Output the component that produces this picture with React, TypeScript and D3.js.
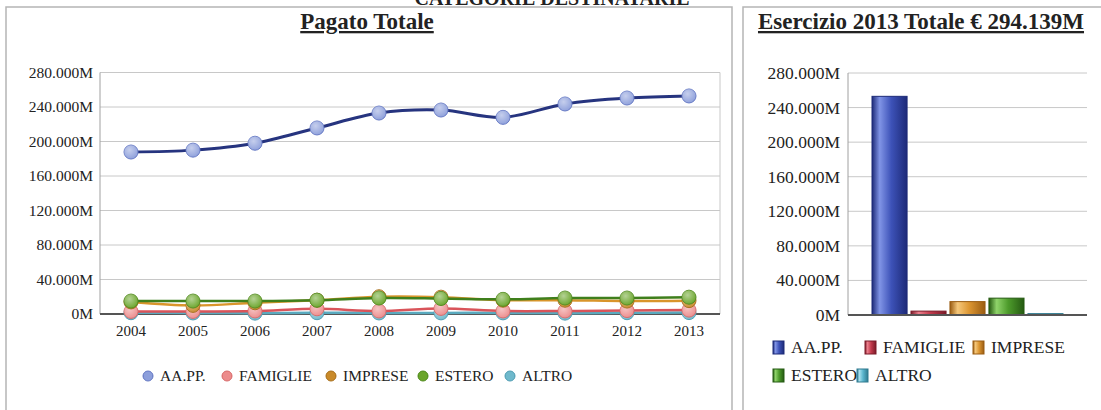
import React from "react";
import * as d3 from "d3";

const years = ["2004", "2005", "2006", "2007", "2008", "2009", "2010", "2011", "2012", "2013"];
const seriesNames = ["AA.PP.", "FAMIGLIE", "IMPRESE", "ESTERO", "ALTRO"];
const aapp = [187.8, 190, 198, 215.7, 233, 236.5, 228, 243.5, 250.4, 252.8];
const famiglie = [3, 3, 3.5, 6, 3.5, 6.5, 3.5, 3.5, 4, 4.5];
const imprese = [14, 10, 13, 16, 20, 19.5, 16, 16, 15, 15.5];
const estero = [15, 15, 15, 16, 18.5, 18, 17, 18.5, 18.5, 19.5];
const altro = [1.5, 1.2, 1.0, 1.5, 1.2, 1.3, 1.3, 1.0, 1.5, 1.6];
const bars2013 = [253, 4.5, 15.5, 19.5, 1.6];
const yTicks = [0, 40, 80, 120, 160, 200, 240, 280];
const tickLabel = (v: number) => (v === 0 ? "0M" : `${v}.000M`);

const lineColors = ["#26347f", "#d9545a", "#d9952b", "#3f7f1c", "#5aaabf"];
const markerFill = ["#8d9fdb", "#ec8c8c", "#c98a2a", "#6aa52a", "#6fb9cc"];
const markerStroke = ["#6478c4", "#d86a6a", "#a86f1c", "#4f8a1c", "#4f9db3"];
const barMid = ["#3d52b8", "#c23a4c", "#dc9632", "#4d9b2b", "#5ab5cd"];
const barLight = ["#8094e6", "#ec7f8c", "#f5c77a", "#8fd36a", "#a8e0ee"];
const barDark = ["#1d2a78", "#7a1a28", "#9a5c12", "#255a12", "#2f7a8f"];

const FONT = "'Liberation Serif', 'Times New Roman', Times, 'DejaVu Serif', serif";

export default function App() {
  const allSeries = [aapp, famiglie, imprese, estero, altro];

  // Left line chart
  const L = { left: 100, right: 720, top: 72.5, bottom: 314 };
  const x = d3.scaleBand<string>().domain(years).range([L.left, L.right]).padding(0);
  const y = d3.scaleLinear().domain([0, 280]).range([L.bottom, L.top]);
  const line = d3
    .line<number>()
    .x((_, i) => (x(years[i]) as number) + x.bandwidth() / 2)
    .y((d) => y(d))
    .curve(d3.curveCatmullRom.alpha(0.5));

  // Right bar chart
  const R = { left: 848, right: 1087, top: 73, bottom: 315 };
  const yb = d3.scaleLinear().domain([0, 280]).range([R.bottom, R.top]);
  const xb = d3.scaleBand<string>().domain(seriesNames).range([R.left + 24, R.right - 24]).paddingInner(0.1);

  const drawOrder = [4, 1, 2, 3, 0];
  const legendLeftX = [148, 227, 331, 423, 510];
  const legendRight = [
    { x: 778, y: 347 },
    { x: 870, y: 347 },
    { x: 978, y: 347 },
    { x: 778, y: 375 },
    { x: 862, y: 375 },
  ];

  return (
    <svg width={1101} height={410} style={{ position: "absolute", left: 0, top: 0, background: "#fff", fontFamily: FONT }}>
      <defs>
        {seriesNames.map((s, i) => (
          <linearGradient key={s} id={`bg${i}`} x1="0" x2="1" y1="0" y2="0">
            <stop offset="0%" stopColor={barDark[i]} />
            <stop offset="22%" stopColor={barLight[i]} />
            <stop offset="55%" stopColor={barMid[i]} />
            <stop offset="100%" stopColor={barDark[i]} />
          </linearGradient>
        ))}
        <radialGradient id="mk" cx="0.4" cy="0.35" r="0.7">
          <stop offset="0%" stopColor="#fff" stopOpacity={0.5} />
          <stop offset="100%" stopColor="#fff" stopOpacity={0} />
        </radialGradient>
      </defs>

      {/* Page title (clipped at top as in the source) */}
      <text x={552} y={5} textAnchor="middle" fontSize={20} fontWeight="bold" fill="#222">
        CATEGORIE DESTINATARIE
      </text>

      {/* Panels */}
      <rect x={6} y={7} width={726} height={420} fill="none" stroke="#b5b5b5" strokeWidth={1.5} />
      <rect x={743} y={7} width={360} height={420} fill="none" stroke="#b5b5b5" strokeWidth={1.5} />

      {/* Left title */}
      <text x={367} y={29} textAnchor="middle" fontSize={23} fontWeight="bold" fill="#222" textDecoration="underline">
        Pagato Totale
      </text>

      {/* Left gridlines and box */}
      {yTicks.map((t) => (
        <g key={t}>
          <line x1={L.left} x2={L.right} y1={y(t)} y2={y(t)} stroke="#c8c8c8" strokeWidth={1} />
          <text x={93} y={y(t) + 5} textAnchor="end" fontSize={15.5} fill="#222">
            {tickLabel(t)}
          </text>
        </g>
      ))}
      <line x1={L.left} x2={L.left} y1={L.top} y2={L.bottom} stroke="#a0a0a0" />
      <line x1={L.right} x2={L.right} y1={L.top} y2={L.bottom} stroke="#c8c8c8" />
      <line x1={L.left} x2={L.right} y1={L.bottom} y2={L.bottom} stroke="#555" strokeWidth={2} />
      {years.map((yr) => (
        <text key={yr} x={(x(yr) as number) + x.bandwidth() / 2} y={336} textAnchor="middle" fontSize={15} fill="#222">
          {yr}
        </text>
      ))}

      {/* Lines */}
      {drawOrder.map((si) => (
        <g key={si}>
          <path d={line(allSeries[si]) as string} fill="none" stroke={lineColors[si]} strokeWidth={si === 0 ? 3 : 2.5} />
          {allSeries[si].map((v, i) => (
            <g key={i}>
              <circle
                cx={(x(years[i]) as number) + x.bandwidth() / 2}
                cy={y(v)}
                r={7}
                fill={markerFill[si]}
                stroke={markerStroke[si]}
                strokeWidth={1}
              />
              <circle cx={(x(years[i]) as number) + x.bandwidth() / 2} cy={y(v)} r={7} fill="url(#mk)" />
            </g>
          ))}
        </g>
      ))}

      {/* Left legend */}
      {seriesNames.map((s, i) => (
        <g key={s}>
          <line x1={legendLeftX[i] - 5} x2={legendLeftX[i] + 5} y1={376} y2={376} stroke={lineColors[i]} strokeWidth={2} />
          <circle cx={legendLeftX[i]} cy={376} r={5} fill={markerFill[i]} stroke={markerStroke[i]} />
          <text x={legendLeftX[i] + 12} y={381} fontSize={15.5} fill="#222">
            {s}
          </text>
        </g>
      ))}

      {/* Right title */}
      <text x={921} y={29} textAnchor="middle" fontSize={23} fontWeight="bold" fill="#222" textDecoration="underline">
        Esercizio 2013 Totale € 294.139M
      </text>

      {/* Right gridlines */}
      {yTicks.map((t) => (
        <g key={t}>
          <line x1={R.left} x2={R.right} y1={yb(t)} y2={yb(t)} stroke="#c8c8c8" strokeWidth={1} />
          <text x={840} y={yb(t) + 6} textAnchor="end" fontSize={17.5} fill="#222">
            {tickLabel(t)}
          </text>
        </g>
      ))}
      <line x1={R.left} x2={R.left} y1={R.top} y2={R.bottom} stroke="#a0a0a0" />

      {/* Bars */}
      {seriesNames.map((s, i) => (
        <rect
          key={s}
          x={xb(s) as number}
          y={yb(bars2013[i])}
          width={xb.bandwidth()}
          height={yb(0) - yb(bars2013[i])}
          fill={`url(#bg${i})`}
          stroke={barDark[i]}
          strokeWidth={1}
        />
      ))}
      <line x1={R.left} x2={R.right} y1={R.bottom} y2={R.bottom} stroke="#555" strokeWidth={2} />

      {/* Right legend */}
      {seriesNames.map((s, i) => (
        <g key={s}>
          <rect x={legendRight[i].x - 5} y={legendRight[i].y - 6} width={11} height={13} fill={`url(#bg${i})`} stroke={barDark[i]} />
          <text x={legendRight[i].x + 13} y={legendRight[i].y + 6} fontSize={17.5} fill="#222">
            {s}
          </text>
        </g>
      ))}
    </svg>
  );
}
